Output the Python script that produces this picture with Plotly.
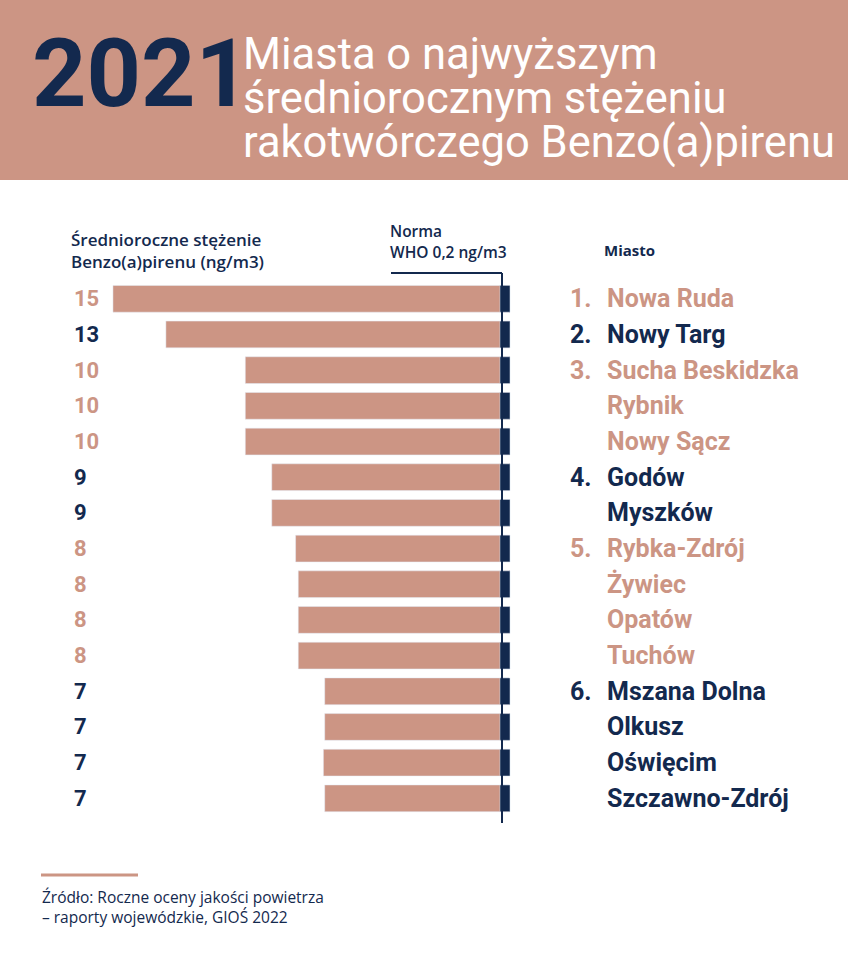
import plotly.graph_objects as go

# data
cities = ["Nowa Ruda", "Nowy Targ", "Sucha Beskidzka", "Rybnik", "Nowy Sącz",
          "Godów", "Myszków", "Rybka-Zdrój", "Żywiec", "Opatów", "Tuchów",
          "Mszana Dolna", "Olkusz", "Oświęcim", "Szczawno-Zdrój"]
values = [15.0, 13.0, 10.0, 10.0, 10.0, 9.0, 9.0, 8.1, 8.0, 8.0, 8.0,
          7.0, 7.0, 7.05, 7.0]
ranks = [1, 2, 3, 3, 3, 4, 4, 5, 5, 5, 5, 6, 6, 6, 6]
WHO_NORM = 0.2

SALMON = "#CC9584"
NAVY = "#13294E"
FONT = "Roboto"
SMALL_FONT = "Open Sans"
W, H = 848, 961


def px(x):
    return x / W


def py(y):
    return 1 - y / H


rows = list(range(len(cities)))
row_colors = [SALMON if r % 2 else NAVY for r in ranks]

fig = go.Figure()
fig.add_trace(go.Bar(x=values, y=rows, orientation="h", marker_color=SALMON,
                     width=0.75, hoverinfo="skip"))
# navy cap at the norm end of each bar
fig.add_trace(go.Bar(x=[0.38] * len(rows), y=rows, orientation="h", marker_color=NAVY,
                     width=0.75, hoverinfo="skip"))

ann = []
seen = set()
for i, (c, v, r, col) in enumerate(zip(cities, values, ranks, row_colors)):
    ann.append(dict(x=px(72), xref="paper", y=i, yref="y", xanchor="left", yanchor="middle",
                    text=str(round(v)), showarrow=False,
                    font=dict(family=FONT, size=22, color=col, weight=700)))
    if r not in seen:
        seen.add(r)
        ann.append(dict(x=px(568), xref="paper", y=i, yref="y", xanchor="left", yanchor="middle",
                        text=f"{r}.", showarrow=False,
                        font=dict(family=FONT, size=25, color=col, weight=700)))
    ann.append(dict(x=px(605), xref="paper", y=i, yref="y", xanchor="left", yanchor="middle",
                    text=c, showarrow=False,
                    font=dict(family=FONT, size=25, color=col, weight=700)))

# header
ann.append(dict(x=px(30), xref="paper", y=py(73), yref="paper", xanchor="left", yanchor="middle",
                text="2021", showarrow=False,
                font=dict(family=FONT, size=95, color=NAVY, weight=700)))
for t, yy in zip(["Miasta o najwyższym", "średniorocznym stężeniu",
                  "rakotwórczego Benzo(a)pirenu"], [54, 98, 143]):
    ann.append(dict(x=px(241), xref="paper", y=py(yy), yref="paper", xanchor="left",
                    yanchor="middle", text=t, showarrow=False,
                    font=dict(family=FONT, size=43.5, color="white")))

small = dict(family=SMALL_FONT, size=17, color=NAVY, weight=600)
for t, yy in [("Średnioroczne stężenie", 240), ("Benzo(a)pirenu (ng/m3)", 261)]:
    ann.append(dict(x=px(69), xref="paper", y=py(yy), yref="paper", xanchor="left",
                    yanchor="middle", text=t, showarrow=False, font=small))
norm_font = dict(family=SMALL_FONT, size=15.5, color=NAVY, weight=600)
for t, yy in [("Norma", 231), ("WHO 0,2 ng/m3", 252)]:
    ann.append(dict(x=px(388), xref="paper", y=py(yy), yref="paper", xanchor="left",
                    yanchor="middle", text=t, showarrow=False, font=norm_font))
ann.append(dict(x=px(602), xref="paper", y=py(250), yref="paper", xanchor="left",
                yanchor="middle", text="Miasto", showarrow=False,
                font=dict(family=SMALL_FONT, size=15, color=NAVY, weight=700)))

src = dict(family=SMALL_FONT, size=15.5, color=NAVY, weight=500)
for t, yy in [("Źródło: Roczne oceny jakości powietrza", 897),
              ("– raporty wojewódzkie, GIOŚ 2022", 917)]:
    ann.append(dict(x=px(40), xref="paper", y=py(yy), yref="paper", xanchor="left",
                    yanchor="middle", text=t, showarrow=False, font=src))

shapes = [
    dict(type="rect", xref="paper", yref="paper", x0=0, x1=1, y0=py(180), y1=1,
         fillcolor=SALMON, line_width=0, layer="below"),
    # norm line
    dict(type="line", xref="paper", yref="paper", x0=px(502), x1=px(502), y0=py(273), y1=py(823),
         line=dict(color=NAVY, width=2)),
    dict(type="line", xref="paper", yref="paper", x0=px(391), x1=px(502), y0=py(273), y1=py(273),
         line=dict(color=NAVY, width=2)),
    dict(type="line", xref="paper", yref="paper", x0=px(41), x1=px(138), y0=py(875), y1=py(875),
         line=dict(color=SALMON, width=3)),
]

fig.update_layout(
    width=W, height=H, margin=dict(l=0, r=0, t=0, b=0),
    paper_bgcolor="white", plot_bgcolor="white",
    barmode="overlay", showlegend=False,
    xaxis=dict(range=[510 / 26.47, -338 / 26.47], visible=False, domain=[0, 1], fixedrange=True),
    yaxis=dict(range=[(961 - 298.8) / 35.68, -298.8 / 35.68], visible=False, domain=[0, 1],
               fixedrange=True),
    annotations=ann, shapes=shapes,
)

fig.write_html("out.html", config={"displayModeBar": False},
               post_script="document.body.style.margin='0';")
